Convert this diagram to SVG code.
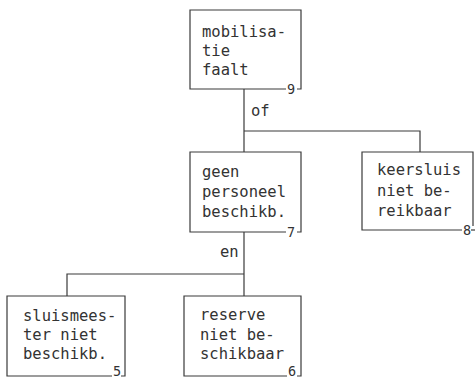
<svg xmlns="http://www.w3.org/2000/svg" width="475" height="379" viewBox="0 0 475 379">
  <style>
    .bg { fill: #ffffff; }
    .box { fill: none; stroke: #3a3a3a; stroke-width: 1.2; }
    .wire { fill: none; stroke: #3a3a3a; stroke-width: 1.2; }
    .lbl { font-family: "DejaVu Sans Mono", "Liberation Mono", monospace; font-size: 15.5px; fill: #333333; }
    .num { font-family: "DejaVu Sans Mono", "Liberation Mono", monospace; font-size: 13.5px; fill: #333333; }
  </style>
  <rect class="bg" x="0" y="0" width="475" height="379"/>

  <!-- tree connectors -->
  <g id="connectors">
    <path class="wire" d="M244,89 V152"/>
    <path class="wire" d="M244,131 H420 V152"/>
    <text class="lbl" x="251" y="116">of</text>
    <path class="wire" d="M244,232 V296"/>
    <path class="wire" d="M244,274 H67 V296"/>
    <text class="lbl" x="220" y="257">en</text>
  </g>

  <g id="node9">
    <path class="box" d="M286,89 H190 V10 H301 V89 H297"/>
    <text class="lbl" x="202" y="37">mobilisa-</text>
    <text class="lbl" x="202" y="56">tie</text>
    <text class="lbl" x="202" y="75">faalt</text>
    <text class="num" x="287" y="94">9</text>
  </g>

  <g id="node7">
    <path class="box" d="M286,232 H190 V152 H301 V232 H297"/>
    <text class="lbl" x="202" y="177">geen</text>
    <text class="lbl" x="202" y="197">personeel</text>
    <text class="lbl" x="202" y="217">beschikb.</text>
    <text class="num" x="287" y="237">7</text>
  </g>

  <g id="node8">
    <path class="box" d="M462,230 H362 V152 H473 V226"/>
    <path class="box" d="M471,230 H475"/>
    <text class="lbl" x="377" y="175">keersluis</text>
    <text class="lbl" x="377" y="196">niet be-</text>
    <text class="lbl" x="377" y="216">reikbaar</text>
    <text class="num" x="463" y="235">8</text>
  </g>

  <g id="node5">
    <path class="box" d="M112,376 H7 V296 H125 V376 H121"/>
    <text class="lbl" x="23" y="321">sluismees-</text>
    <text class="lbl" x="23" y="340">ter niet</text>
    <text class="lbl" x="23" y="359">beschikb.</text>
    <text class="num" x="113" y="375.5">5</text>
  </g>

  <g id="node6">
    <path class="box" d="M287,376 H184 V296 H301 V376 H297"/>
    <text class="lbl" x="200" y="320">reserve</text>
    <text class="lbl" x="200" y="340">niet be-</text>
    <text class="lbl" x="200" y="359">schikbaar</text>
    <text class="num" x="288" y="375.5">6</text>
  </g>
</svg>
